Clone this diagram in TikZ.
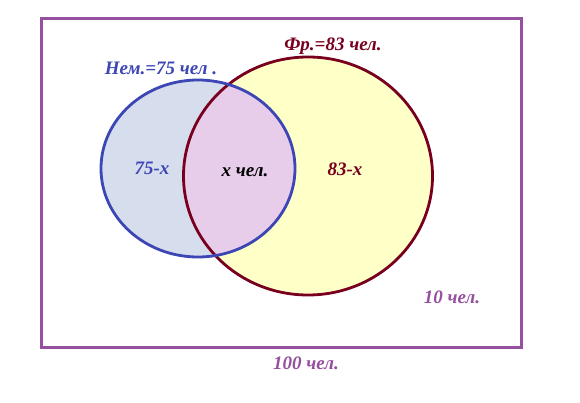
\documentclass[tikz,border=0pt]{standalone}
\usepackage{fontspec}
\setmainfont{Liberation Serif}
\definecolor{frame}{RGB}{150,80,160}
\definecolor{nemline}{RGB}{60,70,180}
\definecolor{nemfill}{RGB}{214,222,238}
\definecolor{frline}{RGB}{120,0,30}
\definecolor{frfill}{RGB}{255,255,200}
\definecolor{both}{RGB}{232,205,235}
\tikzset{lbl/.style={font=\bfseries\itshape\fontsize{19}{21}\selectfont, inner sep=0pt}}
\begin{document}
\begin{tikzpicture}[x=1pt,y=-1pt]
\useasboundingbox (0,0) rectangle (580,403);
\fill[white] (0,0) rectangle (580,403);
\node[draw=frame, line width=3pt, minimum width=480pt, minimum height=328pt, inner sep=0pt] (U) at (281,183) {};
% fills
\fill[frfill] (308,176) ellipse [x radius=124.5, y radius=119];
\fill[nemfill] (198,168.5) ellipse [x radius=97, y radius=88.5];
\begin{scope}
\clip (308,176) ellipse [x radius=124.5, y radius=119];
\fill[both] (198,168.5) ellipse [x radius=97, y radius=88.5];
\end{scope}
% outlines
\draw[frline, line width=2.8pt] (308,176) ellipse [x radius=124.5, y radius=119];
\draw[nemline, line width=2.8pt] (198,168.5) ellipse [x radius=97, y radius=88.5];
% labels
\node[lbl, text=nemline] (nem) at (161,68) {Нем.=75 чел .};
\node[lbl, text=frline] (fr) at (333,46) {Фр.=83 чел.};
\node[lbl, text=nemline] (a) at (152,168) {75-x};
\node[lbl, text=black] (b) at (245,172) {x чел.};
\node[lbl, text=frline] (c) at (345,169) {83-x};
\node[lbl, text=frame] (d) at (452,297) {10 чел.};
\node[lbl, text=frame] (e) at (306,363) {100 чел.};
\end{tikzpicture}
\end{document}
